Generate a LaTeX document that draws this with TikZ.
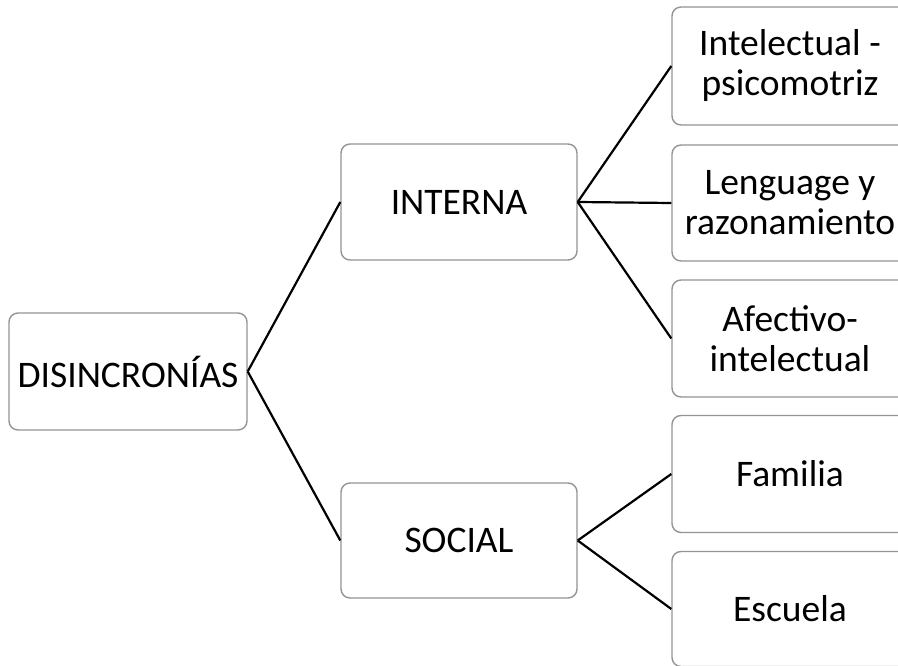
\documentclass[tikz,border=0pt]{standalone}
\usepackage{fontspec}
\setmainfont{Carlito}
\begin{document}
\begin{tikzpicture}[x=1pt,y=-1pt,
  box/.style={draw=black!42, line width=1.4pt, fill=white, rounded corners=9pt,
    minimum width=236pt, inner sep=0pt, align=center,
    font=\fontsize{37.5}{40}\selectfont},
  link/.style={draw=black, line width=2.2pt}]
\clip (0,0) rectangle (898,666);
\fill[white] (0,0) rectangle (898,666);
% root and second level
\node[box, minimum width=238pt, minimum height=117pt] (root) at (128,371.5) {DISINCRONÍAS};
\node[box, minimum height=116pt] (interna) at (459,202) {INTERNA};
\node[box, minimum height=115pt] (social) at (459,540.5) {SOCIAL};
% third level (boxes run past the right edge)
\node[box, minimum height=118pt] (c1) at (790,66) {Intelectual -\\psicomotriz};
\node[box, minimum height=116pt] (c2) at (790,203) {Lenguage y\\razonamiento};
\node[box, minimum height=117pt] (c3) at (790,338.5) {Afectivo-\\intelectual};
\node[box, minimum height=117pt] (c4) at (790,474) {Familia};
\node[box, minimum height=115pt] (c5) at (790,609) {Escuela};
% connectors
\draw[link] (root.east) -- (interna.west);
\draw[link] (root.east) -- (social.west);
\draw[link] (interna.east) -- (c1.west);
\draw[link] (interna.east) -- (c2.west);
\draw[link] (interna.east) -- (c3.west);
\draw[link] (social.east) -- (c4.west);
\draw[link] (social.east) -- (c5.west);
\end{tikzpicture}
\end{document}
